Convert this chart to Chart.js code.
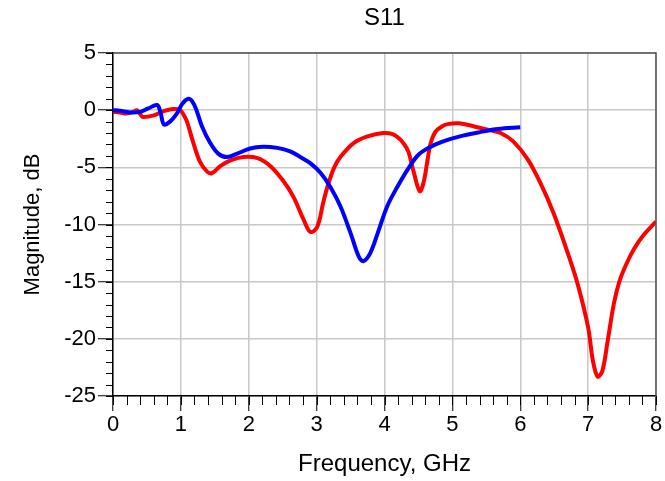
<!DOCTYPE html>
<html>
<head>
<meta charset="utf-8">
<script src="https://cdn.jsdelivr.net/npm/chart.js@4"></script>
<style>
html,body{margin:0;padding:0;background:#fff;}
#wrap{width:665px;height:481px;}
</style>
</head>
<body>
<div id="wrap"><canvas id="c" width="665" height="481"></canvas></div>
<script>
// ---- data ----
const chartTitle = 'S11';
const xAxisTitle = 'Frequency, GHz';
const yAxisTitle = 'Magnitude, dB';
const xTickValues = [0, 1, 2, 3, 4, 5, 6, 7, 8];
const yTickValues = [5, 0, -5, -10, -15, -20, -25];

const redFreq = [0.00,0.10,0.20,0.30,0.35,0.40,0.44,0.60,0.74,0.88,0.99,1.04,1.09,1.18,1.28,1.39,1.46,1.58,1.73,1.92,2.13,2.32,2.51,2.66,2.81,2.91,3.01,3.10,3.18,3.26,3.35,3.54,3.75,3.98,4.12,4.22,4.28,4.35,4.43,4.52,4.58,4.63,4.68,4.75,4.85,4.95,5.10,5.31,5.52,5.71,5.90,6.11,6.30,6.49,6.70,6.85,7.00,7.07,7.14,7.21,7.29,7.38,7.46,7.56,7.68,7.82,8.00];
const redDb   = [-0.15,-0.2,-0.3,-0.15,0.0,-0.35,-0.6,-0.45,-0.1,0.1,0.0,-0.4,-1.0,-2.8,-4.5,-5.4,-5.5,-4.9,-4.4,-4.1,-4.2,-4.9,-6.2,-7.6,-9.6,-10.65,-10.2,-8.0,-6.3,-5.0,-4.1,-2.9,-2.3,-2.0,-2.1,-2.5,-2.9,-3.6,-5.4,-7.1,-6.2,-4.5,-2.9,-1.9,-1.4,-1.2,-1.15,-1.4,-1.7,-2.0,-2.75,-4.3,-6.4,-9.0,-12.5,-15.3,-19.0,-21.9,-23.3,-22.8,-20.1,-16.9,-15.0,-13.5,-12.1,-10.9,-9.75];

const blueFreq = [0.00,0.10,0.25,0.40,0.52,0.65,0.70,0.75,0.84,0.94,1.02,1.11,1.17,1.23,1.31,1.43,1.55,1.68,1.83,2.02,2.21,2.42,2.61,2.76,2.91,3.06,3.20,3.35,3.50,3.62,3.69,3.79,3.90,4.04,4.19,4.34,4.50,4.68,4.93,5.17,5.42,5.67,6.00];
const blueDb   = [0.0,-0.05,-0.2,-0.15,0.15,0.45,-0.2,-1.25,-1.0,-0.3,0.55,1.0,0.75,0.0,-1.4,-2.85,-3.8,-4.1,-3.8,-3.35,-3.2,-3.3,-3.6,-4.1,-4.65,-5.5,-6.7,-8.4,-10.75,-12.8,-13.2,-12.5,-10.75,-8.4,-6.7,-5.2,-3.9,-3.2,-2.6,-2.2,-1.9,-1.65,-1.5];

// ---- chart ----
const FONT = "'Liberation Sans', Arial, sans-serif";
const toPts = (xs, ys) => xs.map((x, i) => ({x: x, y: ys[i]}));

const frameTitleMinor = {
  id: 'frameTitleMinor',
  afterDraw(chart) {
    const ctx = chart.ctx, a = chart.chartArea;
    const xs = chart.scales.x, ys = chart.scales.y;
    ctx.save();
    // chart title centred over the plot area
    ctx.fillStyle = '#000';
    ctx.font = '24px ' + FONT;
    ctx.textAlign = 'center';
    ctx.textBaseline = 'middle';
    ctx.fillText(chartTitle, (a.left + a.right) / 2, 18);
    // frame top & right
    ctx.strokeStyle = '#505050';
    ctx.lineWidth = 1.5;
    ctx.beginPath();
    ctx.moveTo(a.left, a.top); ctx.lineTo(a.right, a.top); ctx.lineTo(a.right, a.bottom);
    ctx.stroke();
    // minor ticks
    ctx.strokeStyle = '#000';
    ctx.lineWidth = 1;
    ctx.beginPath();
    for (let i = 0; i <= 40; i++) {
      const v = xs.min + i * 0.2;
      const px = Math.round(xs.getPixelForValue(v)) + 0.5;
      ctx.moveTo(px, a.bottom); ctx.lineTo(px, a.bottom + 9);
    }
    for (let i = 0; i <= 30; i++) {
      const v = ys.min + i;
      const py = Math.round(ys.getPixelForValue(v)) + 0.5;
      ctx.moveTo(a.left, py); ctx.lineTo(a.left - 7, py);
    }
    ctx.stroke();
    ctx.restore();
  }
};

new Chart(document.getElementById('c'), {
  type: 'line',
  data: {
    datasets: [
      { label: 'blue', data: toPts(blueFreq, blueDb), borderColor: '#0000ff', borderWidth: 4, pointRadius: 0, tension: 0.35, fill: false },
      { label: 'red', data: toPts(redFreq, redDb), borderColor: '#ff0000', borderWidth: 4, pointRadius: 0, tension: 0.35, fill: false }
    ]
  },
  options: {
    responsive: false,
    animation: false,
    devicePixelRatio: 1,
    layout: { padding: { top: 53, left: 0, right: 9, bottom: 0 } },
    plugins: {
      legend: { display: false },
      tooltip: { enabled: false },
      title: { display: false }
    },
    scales: {
      x: {
        type: 'linear', min: 0, max: 8,
        afterFit(s) { s.height = 85; },
        afterBuildTicks(s) { s.ticks = xTickValues.map(v => ({ value: v })); },
        ticks: { color: '#000', font: { family: FONT, size: 22 }, padding: 1, autoSkip: false, maxRotation: 0,
                 callback: v => String(v) },
        grid: { color: '#c8c8c8', lineWidth: 1.5, tickColor: '#000', tickWidth: 1, tickLength: 15, drawTicks: true },
        border: { color: '#000', width: 1.5 },
        title: { display: true, text: xAxisTitle, color: '#000', font: { family: FONT, size: 24 }, padding: { top: 0, bottom: 2 } }
      },
      y: {
        type: 'linear', min: -25, max: 5,
        afterFit(s) { s.width = 113; },
        afterBuildTicks(s) { s.ticks = yTickValues.slice().reverse().map(v => ({ value: v })); },
        ticks: { color: '#000', font: { family: FONT, size: 22 }, padding: 2, autoSkip: false,
                 callback: v => String(v) },
        grid: { color: '#c8c8c8', lineWidth: 1.5, tickColor: '#000', tickWidth: 1, tickLength: 15, drawTicks: true },
        border: { color: '#000', width: 1.5 },
        title: { display: true, text: yAxisTitle, color: '#000', font: { family: FONT, size: 22 }, padding: { top: 20, bottom: 0 } }
      }
    }
  },
  plugins: [frameTitleMinor]
});
</script>
</body>
</html>
